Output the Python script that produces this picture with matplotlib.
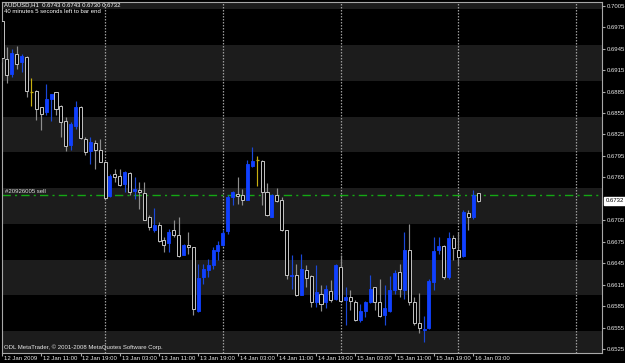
import matplotlib
matplotlib.use("Agg")
import matplotlib.pyplot as plt
import matplotlib.transforms as mtransforms
import numpy as np
import pandas as pd

# ---------------- data (AUDUSD H1, from 12 Jan 2009 03:00) ----------------
opens = [0.6984, 0.6931, 0.6909, 0.6937, 0.6926, 0.6933, 0.6885, 0.6886, 0.6863, 0.6857,
         0.6874, 0.6884, 0.6865, 0.6844, 0.6810, 0.6837, 0.6864, 0.6819, 0.6802, 0.6813,
         0.6803, 0.6786, 0.6739, 0.6769, 0.6767, 0.6756, 0.6771, 0.6746, 0.6748, 0.6743,
         0.6709, 0.6691, 0.6698, 0.6677, 0.6673, 0.6691, 0.6685, 0.6657, 0.6671, 0.6667,
         0.6578, 0.6626, 0.6636, 0.6643, 0.6662, 0.6670, 0.6690, 0.6737, 0.6742, 0.6741,
         0.6734, 0.6781, 0.6789, 0.6788, 0.6744, 0.6710, 0.6740, 0.6734, 0.6691, 0.6627,
         0.6628, 0.6601, 0.6635, 0.6627, 0.6590, 0.6602, 0.6590, 0.6606, 0.6595, 0.6640,
         0.6593, 0.6598, 0.6591, 0.6565, 0.6578, 0.6590, 0.6611, 0.6591, 0.6573, 0.6578,
         0.6607, 0.6632, 0.6608, 0.6664, 0.6590, 0.6562, 0.6551, 0.6554, 0.6619, 0.6663,
         0.6669, 0.6625, 0.6680, 0.6664, 0.6655, 0.6715, 0.6709, 0.6743]
highs = [0.6985, 0.6947, 0.6944, 0.6949, 0.6938, 0.6935, 0.6904, 0.6887, 0.6863, 0.6896,
         0.6882, 0.6885, 0.6866, 0.6850, 0.6843, 0.6872, 0.6865, 0.6822, 0.6822, 0.6817,
         0.6819, 0.6787, 0.6769, 0.6776, 0.6776, 0.6774, 0.6773, 0.6766, 0.6759, 0.6759,
         0.6712, 0.6722, 0.6702, 0.6681, 0.6693, 0.6705, 0.6709, 0.6672, 0.6688, 0.6668,
         0.6644, 0.6644, 0.6651, 0.6668, 0.6676, 0.6691, 0.6740, 0.6746, 0.6766, 0.6749,
         0.6789, 0.6808, 0.6795, 0.6789, 0.6757, 0.6742, 0.6750, 0.6738, 0.6692, 0.6656,
         0.6644, 0.6658, 0.6643, 0.6628, 0.6643, 0.6614, 0.6614, 0.6621, 0.6644, 0.6656,
         0.6611, 0.6607, 0.6594, 0.6588, 0.6592, 0.6629, 0.6612, 0.6623, 0.6614, 0.6627,
         0.6635, 0.6644, 0.6689, 0.6700, 0.6598, 0.6603, 0.6571, 0.6623, 0.6682, 0.6682,
         0.6670, 0.6689, 0.6684, 0.6689, 0.6719, 0.6719, 0.6748, 0.6743]
lows = [0.6926, 0.6897, 0.6906, 0.6917, 0.6912, 0.6878, 0.6865, 0.6845, 0.6831, 0.6852,
        0.6844, 0.6852, 0.6822, 0.6802, 0.6803, 0.6833, 0.6819, 0.6796, 0.6784, 0.6776,
        0.6787, 0.6735, 0.6738, 0.6759, 0.6753, 0.6745, 0.6740, 0.6735, 0.6721, 0.6705,
        0.6691, 0.6689, 0.6675, 0.6661, 0.6661, 0.6682, 0.6654, 0.6656, 0.6658, 0.6573,
        0.6577, 0.6616, 0.6626, 0.6637, 0.6650, 0.6669, 0.6686, 0.6726, 0.6728, 0.6726,
        0.6733, 0.6780, 0.6753, 0.6726, 0.6711, 0.6709, 0.6731, 0.6690, 0.6623, 0.6609,
        0.6599, 0.6600, 0.6611, 0.6584, 0.6584, 0.6578, 0.6582, 0.6591, 0.6594, 0.6591,
        0.6558, 0.6579, 0.6564, 0.6563, 0.6570, 0.6589, 0.6579, 0.6570, 0.6559, 0.6577,
        0.6602, 0.6598, 0.6595, 0.6586, 0.6559, 0.6548, 0.6535, 0.6553, 0.6607, 0.6658,
        0.6623, 0.6623, 0.6650, 0.6642, 0.6654, 0.6691, 0.6707, 0.6730]
closes = [0.6932, 0.6908, 0.6939, 0.6924, 0.6935, 0.6886, 0.6885, 0.6860, 0.6854, 0.6875,
          0.6881, 0.6861, 0.6843, 0.6809, 0.6839, 0.6863, 0.6820, 0.6800, 0.6815, 0.6803,
          0.6787, 0.6736, 0.6767, 0.6766, 0.6754, 0.6773, 0.6745, 0.6749, 0.6745, 0.6705,
          0.6695, 0.6699, 0.6676, 0.6671, 0.6689, 0.6685, 0.6655, 0.6670, 0.6668, 0.6581,
          0.6624, 0.6637, 0.6643, 0.6663, 0.6670, 0.6687, 0.6738, 0.6744, 0.6739, 0.6734,
          0.6783, 0.6788, 0.6789, 0.6745, 0.6712, 0.6740, 0.6732, 0.6691, 0.6628, 0.6629,
          0.6600, 0.6637, 0.6624, 0.6591, 0.6604, 0.6588, 0.6609, 0.6594, 0.6642, 0.6592,
          0.6597, 0.6592, 0.6565, 0.6578, 0.6591, 0.6609, 0.6590, 0.6571, 0.6582, 0.6608,
          0.6631, 0.6609, 0.6664, 0.6591, 0.6561, 0.6555, 0.6553, 0.6620, 0.6662, 0.6669,
          0.6625, 0.6680, 0.6666, 0.6653, 0.6717, 0.6710, 0.6741, 0.6732]

price_ticks = [0.7005, 0.6975, 0.6945, 0.6915, 0.6885, 0.6855, 0.6825, 0.6795, 0.6765,
               0.6705, 0.6675, 0.6645, 0.6615, 0.6585, 0.6555, 0.6525]
time_labels = ["12 Jan 2009", "12 Jan 11:00", "12 Jan 19:00", "13 Jan 03:00", "13 Jan 11:00",
               "13 Jan 19:00", "14 Jan 03:00", "14 Jan 11:00", "14 Jan 19:00", "15 Jan 03:00",
               "15 Jan 11:00", "15 Jan 19:00", "16 Jan 03:00"]
order_price = 0.6741
order_label = "#20926005 sell"
last_price = 0.6732
header = "AUDUSD,H1  0.6743 0.6743 0.6730 0.6732"
subheader = "40 minutes 5 seconds left to bar end"
copyright_txt = "ODL MetaTrader, \u00a9 2001-2008 MetaQuotes Software Corp."

# ---------------- figure ----------------
W, H = 625, 363
FONT = "Liberation Sans"
FS = 4.3
fig = plt.figure(figsize=(W / 100, H / 100), dpi=100, facecolor="black")
ax = fig.add_axes([2 / W, (H - 352.7) / H, 600 / W, 350.7 / H])
ax.set_facecolor("black")

o = np.array(opens); h = np.array(highs); l = np.array(lows); c = np.array(closes)
n = len(o)
x = np.arange(n)
xmin, xmax = 0.06, 122.26
ax.set_xlim(xmin, xmax)
ax.set_ylim(0.65198, 0.70102)

# alternating grid bands
for lo in np.arange(0.650, 0.705, 0.010):
    ax.axhspan(lo, lo + 0.005, color="#1c1c1c", lw=0, zorder=0)

# day separators
times = pd.date_range("2009-01-12 03:00", periods=int(xmax) + 1, freq="h")
for i, t in enumerate(times):
    if t.hour == 0:
        ax.axvline(i, color="#9c9c9c", lw=0.9, ls=(0, (1.2, 1.2)), zorder=1)

BLUE = "#1040ff"
BLUE_WICK = "#1a48d8"
GRAY_EDGE = "#c4c4c4"
GRAY_WICK = "#8e8e8e"
YELLOW = "#c8b010"

up = c > o
down = c < o
doji = c == o

wick_colors = np.where(up, BLUE_WICK, np.where(down, GRAY_WICK, YELLOW))
ax.vlines(x, l, h, colors=list(wick_colors), lw=0.85, zorder=3)

bw = 0.62
ax.bar(x[up], (c - o)[up], bottom=o[up], width=bw, color=BLUE, edgecolor=BLUE, lw=0.6, zorder=4)
ax.bar(x[down], (o - c)[down], bottom=c[down], width=bw, color="black", edgecolor=GRAY_EDGE, lw=0.7, zorder=4)
ax.hlines(o[doji], x[doji] - bw / 2, x[doji] + bw / 2, colors=YELLOW, lw=0.9, zorder=4)

# order line
ax.axhline(order_price, color="#14a814", lw=1.0, ls=(0, (6, 3, 1.5, 3)), zorder=2)
ax.text(0.7, order_price + 0.00012, order_label, color="#e0e0e0", fontsize=FS,
        family=FONT, va="bottom", ha="left", zorder=5)

# spines
for s in ax.spines.values():
    s.set_color("#a8a8a8")
    s.set_linewidth(0.8)

# price axis
ax.yaxis.tick_right()
ax.set_yticks(price_ticks)
ax.set_yticklabels([f"{p:.4f}" for p in price_ticks])
ax.tick_params(axis="y", colors="#a8a8a8", labelcolor="#e8e8e8", labelsize=FS,
               length=2, width=0.8, pad=1.5)
for lab in ax.get_yticklabels():
    lab.set_family(FONT)

# current price box
trans_y = mtransforms.blended_transform_factory(ax.transAxes, ax.transData)
ax.text(1.0 + 3.5 / 600, last_price, f"{last_price:.4f}", transform=trans_y,
        color="black", fontsize=FS, family=FONT, va="center", ha="left",
        bbox=dict(boxstyle="square,pad=0.18", fc="white", ec="white"), clip_on=False, zorder=10)

# time axis
tick_idx = np.arange(0, 8 * len(time_labels), 8)
ax.set_xticks(tick_idx)
ax.set_xticklabels([])
ax.tick_params(axis="x", colors="#a8a8a8", length=2.5, width=0.8)
trans_x = ax.get_xaxis_transform()
for i, lab in zip(tick_idx, time_labels):
    ax.text(i + 0.4, -0.008, lab, transform=trans_x, color="#e8e8e8", fontsize=FS,
            family=FONT, va="top", ha="left", clip_on=False)

# header / footer texts
fig.text(3.5 / W, 1 - 2.6 / H, header, color="white", fontsize=FS, family=FONT, va="top", ha="left")
fig.text(3.8 / W, 1 - 9.4 / H, subheader, color="white", fontsize=FS, family=FONT, va="top", ha="left")
fig.text(3.5 / W, 1 - 347.3 / H, copyright_txt, color="#e8e8e8", fontsize=FS, family=FONT,
         va="center", ha="left")

fig.savefig("out.png", dpi=100, facecolor="black")
